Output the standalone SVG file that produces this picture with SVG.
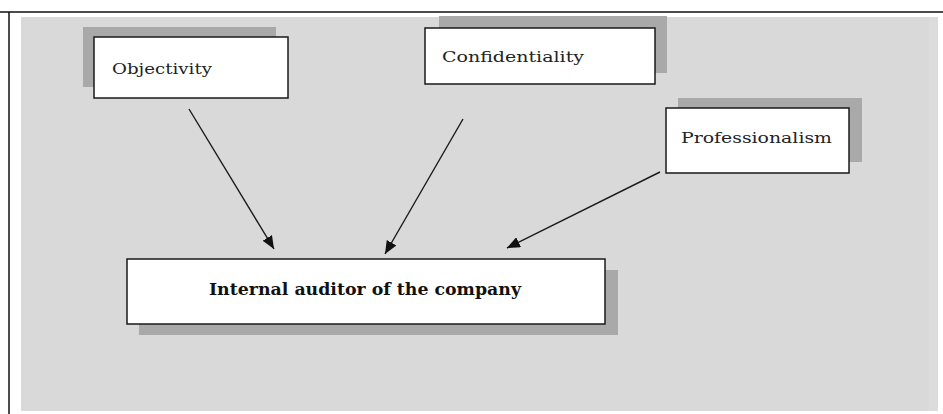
<svg xmlns="http://www.w3.org/2000/svg" width="943" height="414" viewBox="0 0 943 414">
  <style>
    .shadow { fill: #a9a9a9; }
    .box { fill: #ffffff; stroke: #1a1a1a; stroke-width: 1.5; }
    .lbl { font-family: "DejaVu Serif", "Liberation Serif", serif; font-size: 15px; fill: #222222; }
    .main { font-family: "DejaVu Serif", "Liberation Serif", serif; font-size: 16px; font-weight: bold; fill: #111111; }
    .conn { stroke: #1a1a1a; stroke-width: 1.4; fill: none; marker-end: url(#arrow); }
  </style>
  <defs>
    <marker id="arrow" viewBox="0 0 13 11" refX="13" refY="5.5" markerWidth="13" markerHeight="11" markerUnits="userSpaceOnUse" orient="auto">
      <path d="M0,0 L13,5.5 L0,11 Z" fill="#111111"/>
    </marker>
  </defs>
  <rect x="0" y="0" width="943" height="414" fill="#ffffff"/>
  <g id="frame">
    <rect x="21" y="17" width="912" height="394" fill="#d9d9d9"/>
    <rect x="929" y="17" width="9" height="394" fill="#dcdcdc"/>
    <line x1="0" y1="12" x2="943" y2="12" stroke="#111111" stroke-width="1.5"/>
    <line x1="9" y1="12" x2="9" y2="414" stroke="#111111" stroke-width="1.5"/>
  </g>
  <g id="connectors">
    <line class="conn" x1="189" y1="109" x2="274" y2="249"/>
    <line class="conn" x1="463" y1="119" x2="385" y2="254"/>
    <line class="conn" x1="660" y1="172" x2="507" y2="248"/>
  </g>
  <g id="objectivity">
    <rect class="shadow" x="83" y="27" width="193" height="60"/>
    <rect class="box" x="94" y="37" width="194" height="61"/>
    <text class="lbl" x="112" y="74" textLength="100" lengthAdjust="spacingAndGlyphs">Objectivity</text>
  </g>
  <g id="confidentiality">
    <rect class="shadow" x="439" y="16" width="228" height="57"/>
    <rect class="box" x="425" y="28" width="230" height="56"/>
    <text class="lbl" x="442" y="62" textLength="142" lengthAdjust="spacingAndGlyphs">Confidentiality</text>
  </g>
  <g id="professionalism">
    <rect class="shadow" x="678" y="98" width="184" height="64"/>
    <rect class="box" x="666" y="108" width="183" height="65"/>
    <text class="lbl" x="681" y="143" textLength="151" lengthAdjust="spacingAndGlyphs">Professionalism</text>
  </g>
  <g id="internal-auditor">
    <rect class="shadow" x="139" y="270" width="479" height="65"/>
    <rect class="box" x="127" y="259" width="478" height="65"/>
    <text class="main" x="209" y="295" textLength="312" lengthAdjust="spacingAndGlyphs">Internal auditor of the company</text>
  </g>
</svg>
